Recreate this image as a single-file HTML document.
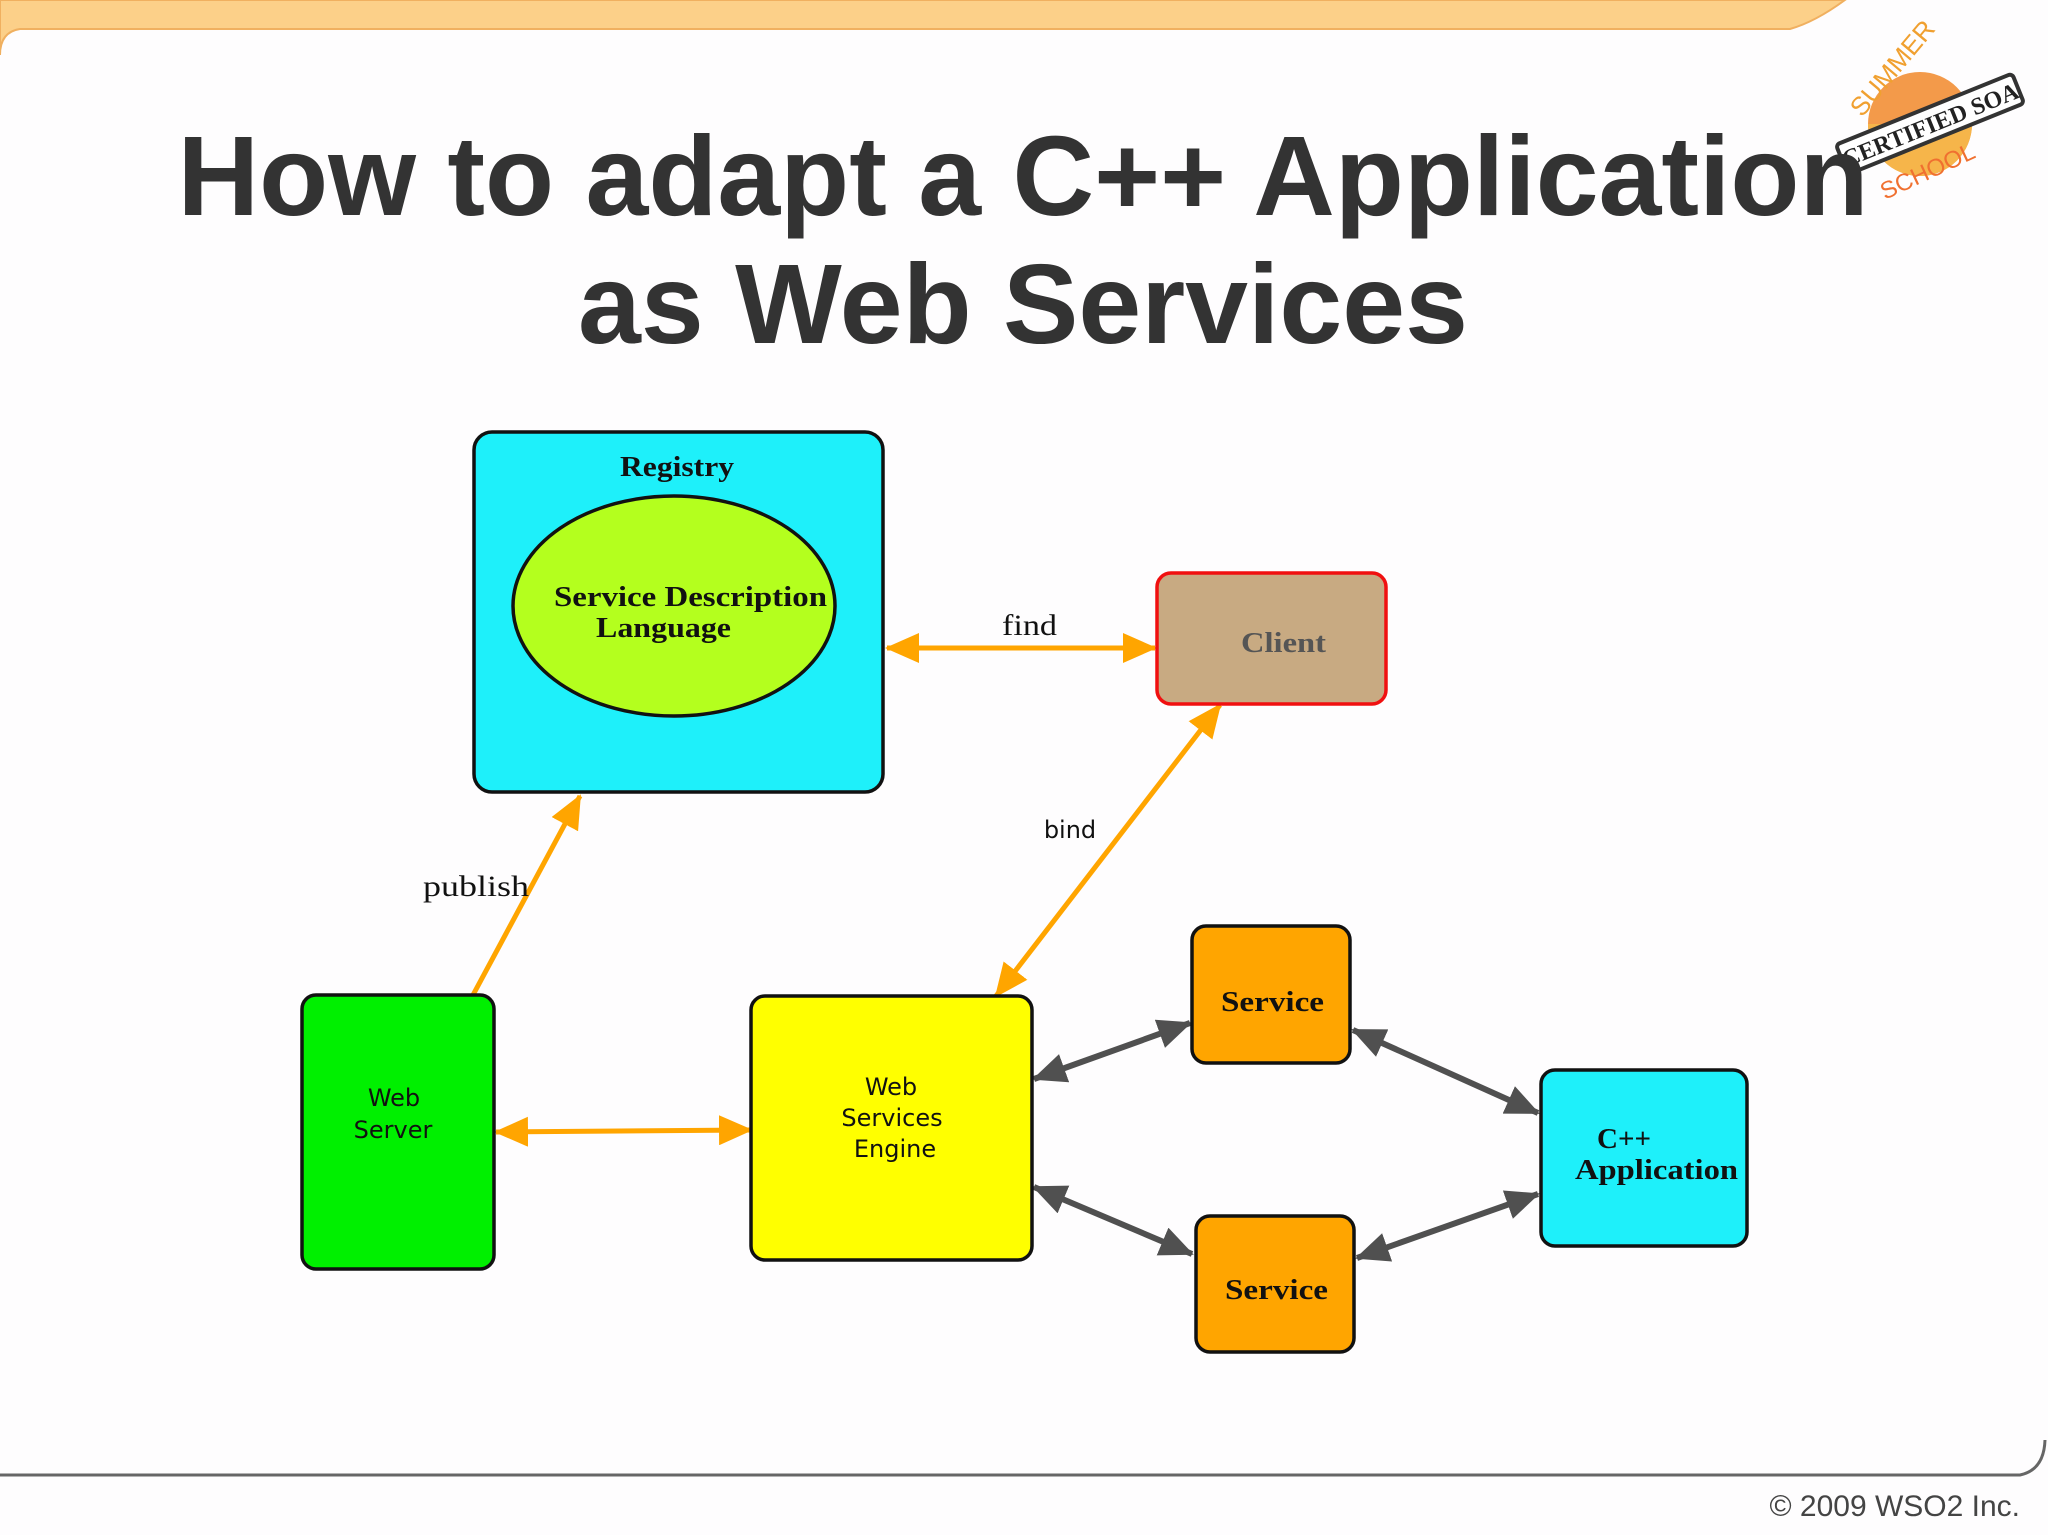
<!DOCTYPE html>
<html><head><meta charset="utf-8"><style>
html,body{margin:0;padding:0;background:#fff;}
svg{display:block;}
</style></head><body>
<svg width="2048" height="1535" viewBox="0 0 2048 1535" xmlns="http://www.w3.org/2000/svg">
<defs>
<marker id="ao" markerUnits="userSpaceOnUse" markerWidth="34" markerHeight="30" refX="32" refY="15" orient="auto-start-reverse"><path d="M0,0 L34,15 L0,30 z" fill="#ffa500"/></marker>
<marker id="ag" markerUnits="userSpaceOnUse" markerWidth="34" markerHeight="30" refX="32" refY="15" orient="auto-start-reverse"><path d="M0,0 L34,15 L0,30 z" fill="#505050"/></marker>
</defs>
<rect width="2048" height="1535" fill="#fefdfe"/>
<!-- top band -->
<path d="M0,0 L1845,0 Q1815,22 1790,29 L20,29 Q0,32 0,55 Z" fill="#fcd089" stroke="#f0b060" stroke-width="2"/>
<!-- footer line -->
<path d="M0,1475 L2020,1475 Q2044,1470 2045,1440" fill="none" stroke="#666" stroke-width="3"/>
<text x="2020" y="1516" text-anchor="end" font-family="Liberation Sans, sans-serif" font-size="30" fill="#444">© 2009 WSO2 Inc.</text>
<!-- logo -->
<g>
<circle cx="1920" cy="124" r="52" fill="#f39a4a"/>
<path d="M1868,124 A52,52 0 0 0 1972,124 Z" fill="#f6b54a"/>
<text x="1862" y="118" font-family="Liberation Sans, sans-serif" font-size="26" fill="#f0a030" transform="rotate(-50 1862 118)">SUMMER</text>
<text x="1885" y="200" font-family="Liberation Sans, sans-serif" font-size="24" fill="#f07030" transform="rotate(-25 1885 200)">SCHOOL</text>
<g transform="rotate(-22 1930 124)">
<rect x="1835" y="108" width="190" height="32" fill="#fff" stroke="#333" stroke-width="4" rx="4"/>
<text x="1930" y="133" text-anchor="middle" font-family="Liberation Serif, serif" font-weight="bold" font-size="24" fill="#222">CERTIFIED SOA</text>
</g>
</g>
<!-- title -->
<g font-family="Liberation Sans, sans-serif" font-weight="bold" fill="#333" text-anchor="middle">
<text x="1023" y="215" font-size="113">How to adapt a C++ Application</text>
<text x="1023" y="343" font-size="113">as Web Services</text>
</g>
<!-- connectors -->
<g stroke-width="5" fill="none">
<line x1="887" y1="648" x2="1155" y2="648" stroke="#ffa500" marker-start="url(#ao)" marker-end="url(#ao)"/>
<line x1="1220" y1="705" x2="996" y2="996" stroke="#ffa500" marker-start="url(#ao)" marker-end="url(#ao)"/>
<line x1="473" y1="995" x2="580" y2="796" stroke="#ffa500" marker-end="url(#ao)"/>
<line x1="496" y1="1132" x2="751" y2="1130" stroke="#ffa500" marker-start="url(#ao)" marker-end="url(#ao)"/>
<line x1="1034" y1="1079" x2="1190" y2="1023" stroke="#505050" stroke-width="6" marker-start="url(#ag)" marker-end="url(#ag)"/>
<line x1="1353" y1="1030" x2="1538" y2="1113" stroke="#505050" stroke-width="6" marker-start="url(#ag)" marker-end="url(#ag)"/>
<line x1="1034" y1="1187" x2="1192" y2="1254" stroke="#505050" stroke-width="6" marker-start="url(#ag)" marker-end="url(#ag)"/>
<line x1="1357" y1="1258" x2="1538" y2="1194" stroke="#505050" stroke-width="6" marker-start="url(#ag)" marker-end="url(#ag)"/>
</g>
<!-- nodes -->
<rect x="474" y="432" width="409" height="360" rx="18" fill="#1ef0fa" stroke="#111" stroke-width="3.5"/>
<ellipse cx="674" cy="606" rx="161" ry="110" fill="#b4ff1e" stroke="#111" stroke-width="3.5"/>
<rect x="1157" y="573" width="229" height="131" rx="14" fill="#c8aa82" stroke="#f01010" stroke-width="3.5"/>
<rect x="302" y="995" width="192" height="274" rx="14" fill="#00f000" stroke="#111" stroke-width="3.5"/>
<rect x="751" y="996" width="281" height="264" rx="14" fill="#ffff00" stroke="#111" stroke-width="3.5"/>
<rect x="1192" y="926" width="158" height="137" rx="14" fill="#ffa500" stroke="#111" stroke-width="3.5"/>
<rect x="1196" y="1216" width="158" height="136" rx="14" fill="#ffa500" stroke="#111" stroke-width="3.5"/>
<rect x="1541" y="1070" width="206" height="176" rx="14" fill="#1ef0fa" stroke="#111" stroke-width="3.5"/>
<!-- labels -->
<g font-family="Liberation Serif, serif" font-weight="bold" font-size="28" fill="#111">
<text x="620" y="476" textLength="114" lengthAdjust="spacingAndGlyphs">Registry</text>
<text x="554" y="606" textLength="273" lengthAdjust="spacingAndGlyphs">Service Description</text>
<text x="596" y="637" textLength="135" lengthAdjust="spacingAndGlyphs">Language</text>
<text x="1002" y="635" font-weight="normal" font-size="30" textLength="55" lengthAdjust="spacingAndGlyphs">find</text>
<text x="423" y="896" font-weight="normal" font-size="30" textLength="106" lengthAdjust="spacingAndGlyphs">publish</text>
<text x="1241" y="652" fill="#555" textLength="85" lengthAdjust="spacingAndGlyphs">Client</text>
<text x="1221" y="1011" textLength="103" lengthAdjust="spacingAndGlyphs">Service</text>
<text x="1225" y="1299" textLength="103" lengthAdjust="spacingAndGlyphs">Service</text>
<text x="1597" y="1148" textLength="54" lengthAdjust="spacingAndGlyphs">C++</text>
<text x="1575" y="1179" textLength="163" lengthAdjust="spacingAndGlyphs">Application</text>
</g>
<g font-family="DejaVu Sans, sans-serif" font-size="24" fill="#111" text-anchor="middle">
<text x="1070" y="838">bind</text>
<text x="394" y="1106">Web</text>
<text x="393" y="1138">Server</text>
<text x="891" y="1095">Web</text>
<text x="892" y="1126">Services</text>
<text x="895" y="1157">Engine</text>
</g>
</svg>
</body></html>
